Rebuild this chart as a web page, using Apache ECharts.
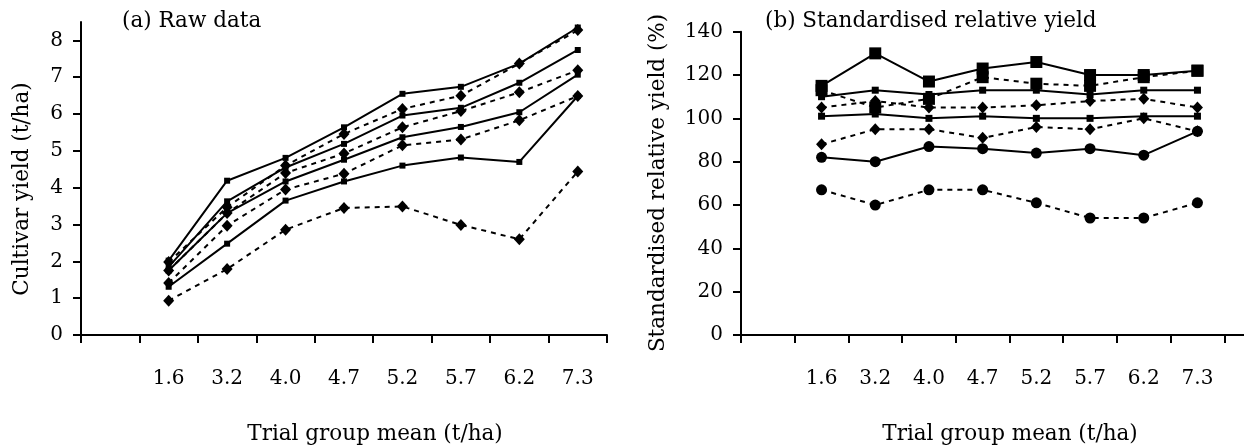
<!DOCTYPE html>
<html lang="en">
<head>
    <meta charset="UTF-8">
    <title>Cultivar yield</title>
    <script src="https://cdn.jsdelivr.net/npm/echarts@6/dist/echarts.min.js"></script>
</head>
<style>
    html,body{
        padding: 0;
        margin: 0;
        background: #fff;
    }
</style>
<body>
<div id="main" style="width: 1244px;height:448px;"></div>
</body>
<script type="text/javascript">
    // trial group means (x categories)
    var xLabels = ['1.6', '3.2', '4.0', '4.7', '5.2', '5.7', '6.2', '7.3'];

    // (a) raw cultivar yield, t/ha
    var rawSolid1  = [2.02, 4.19, 4.81, 5.64, 6.55, 6.74, 7.37, 8.35];
    var rawDash1   = [1.98, 3.47, 4.60, 5.46, 6.14, 6.50, 7.37, 8.28];
    var rawSolid2  = [1.85, 3.63, 4.55, 5.19, 5.96, 6.17, 6.85, 7.74];
    var rawDash2   = [1.75, 3.31, 4.40, 4.93, 5.64, 6.08, 6.59, 7.19];
    var rawSolid3  = [1.75, 3.31, 4.17, 4.76, 5.37, 5.65, 6.05, 7.07];
    var rawDash3   = [1.41, 2.97, 3.95, 4.38, 5.15, 5.31, 5.83, 6.49];
    var rawSolid4  = [1.31, 2.48, 3.65, 4.17, 4.60, 4.82, 4.70, 6.49];
    var rawDash4   = [0.93, 1.79, 2.86, 3.45, 3.49, 2.99, 2.60, 4.44];

    // (b) standardised relative yield, %
    var relSquare1  = [115, 130, 117, 123, 126, 120, 120, 122];
    var relSquare2  = [113, 105, 109, 119, 116, 115, 119, 122];
    var relSmall1   = [110, 113, 111, 113, 113, 111, 113, 113];
    var relDiamond1 = [105, 108, 105, 105, 106, 108, 109, 105];
    var relSmall2   = [101, 102, 100, 101, 100, 100, 101, 101];
    var relDiamond2 = [88, 95, 95, 91, 96, 95, 100, 94];
    var relCircle1  = [82, 80, 87, 86, 84, 86, 83, 94];
    var relCircle2  = [67, 60, 67, 67, 61, 54, 54, 61];

    var yTicksA = [0, 1, 2, 3, 4, 5, 6, 7, 8];

    var FONT = 'DejaVu Serif';
    var myChart = echarts.init(document.getElementById('main'));

    function line(data, grid, dashed, symbol, size) {
        return {
            type: 'line',
            xAxisIndex: grid,
            yAxisIndex: grid,
            data: [null].concat(data),
            symbol: symbol,
            symbolSize: size,
            showSymbol: true,
            connectNulls: false,
            animation: false,
            itemStyle: {color: '#000', borderWidth: 0},
            lineStyle: {color: '#000', width: 2, type: dashed ? [5, 5] : 'solid'},
            emphasis: {disabled: true}
        };
    }

    function xAxis(grid, cats) {
        return {
            type: 'category',
            gridIndex: grid,
            data: cats,
            boundaryGap: true,
            axisLine: {show: true, lineStyle: {color: '#000', width: 2}},
            axisTick: {show: true, interval: 0, length: 8, inside: false, lineStyle: {color: '#000', width: 2}},
            axisLabel: {interval: 0, margin: 34, color: '#000', fontFamily: FONT, fontSize: 20},
            splitLine: {show: false}
        };
    }

    function yAxis(grid, min, max, interval, ticks) {
        var ax = {
            type: 'value',
            gridIndex: grid,
            min: min,
            max: max,
            interval: interval,
            axisLine: {show: true, lineStyle: {color: '#000', width: 2}},
            axisTick: {show: true, length: 8, lineStyle: {color: '#000', width: 2}},
            axisLabel: {margin: 18, color: '#000', fontFamily: FONT, fontSize: 20},
            splitLine: {show: false}
        };
        if (ticks) {
            ax.axisTick.customValues = ticks;
            ax.axisLabel.customValues = ticks;
        }
        return ax;
    }

    // free text: panel titles and axis titles
    function text(str, x, y, opts) {
        var t = {
            type: 'text',
            x: x,
            y: y,
            style: {
                text: str,
                fill: '#000',
                font: '21.5px "' + FONT + '"',
                align: opts && opts.align || 'left',
                verticalAlign: 'middle'
            }
        };
        if (opts && opts.rotate) t.rotation = Math.PI / 2;
        return t;
    }

    var option = {
        backgroundColor: '#fff',
        animation: false,
        grid: [
            {left: 81, top: 22, width: 526, height: 313, outerBoundsMode: 'none'},
            {left: 741, top: 31.7, width: 537, height: 303.3, outerBoundsMode: 'none'}
        ],
        xAxis: [
            xAxis(0, [''].concat(xLabels)),
            xAxis(1, [''].concat(xLabels, ['']))
        ],
        yAxis: [
            yAxis(0, 0, 8.5, 1, yTicksA),
            yAxis(1, 0, 140, 20, null)
        ],
        graphic: [
            text('(a) Raw data', 122, 21),
            text('(b) Standardised relative yield', 765, 21),
            text('Cultivar yield (t/ha)', 22, 189, {rotate: true, align: 'center'}),
            text('Standardised relative yield (%)', 658, 183, {rotate: true, align: 'center'}),
            text('Trial group mean (t/ha)', 375, 434, {align: 'center'}),
            text('Trial group mean (t/ha)', 1010, 434, {align: 'center'})
        ],
        series: [
            line(rawSolid1, 0, false, 'rect', 6),
            line(rawDash1, 0, true, 'diamond', [11, 12]),
            line(rawSolid2, 0, false, 'rect', 6),
            line(rawDash2, 0, true, 'diamond', [11, 12]),
            line(rawSolid3, 0, false, 'rect', 6),
            line(rawDash3, 0, true, 'diamond', [11, 12]),
            line(rawSolid4, 0, false, 'rect', 6),
            line(rawDash4, 0, true, 'diamond', [11, 12]),

            line(relSquare1, 1, false, 'rect', 12),
            line(relSquare2, 1, true, 'rect', 12),
            line(relSmall1, 1, false, 'rect', 7),
            line(relDiamond1, 1, true, 'diamond', [11, 12]),
            line(relSmall2, 1, false, 'rect', 7),
            line(relDiamond2, 1, true, 'diamond', [11, 12]),
            line(relCircle1, 1, false, 'circle', 11),
            line(relCircle2, 1, true, 'circle', 11)
        ]
    };

    myChart.setOption(option);
</script>
</html>
